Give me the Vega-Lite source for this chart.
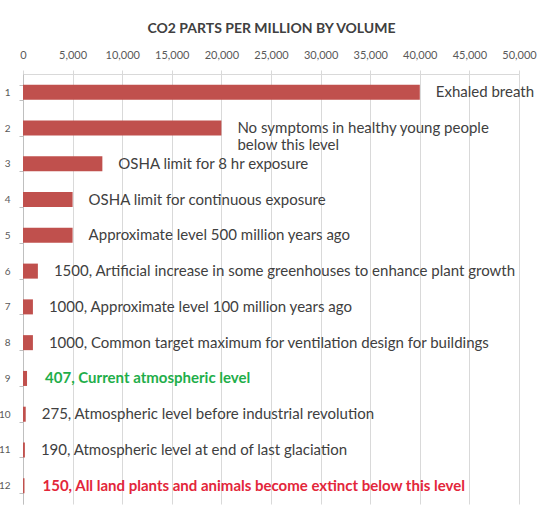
{
  "$schema": "https://vega.github.io/schema/vega-lite/v6.json",
  "autosize": {"type": "none"},
  "width": 496,
  "height": 430,
  "padding": {"left": 23, "top": 74, "right": 27, "bottom": 4},
  "background": "white",
  "config": {
    "font": "Lato",
    "view": {"stroke": null}
  },
  "data": {
    "values": [
      {"row": "1", "ppm": 40000, "label": "Exhaled breath", "kind": "normal"},
      {"row": "2", "ppm": 20000, "label": "No symptoms in healthy young people\nbelow this level", "kind": "normal"},
      {"row": "3", "ppm": 8000, "label": "OSHA limit for 8 hr exposure", "kind": "normal"},
      {"row": "4", "ppm": 5000, "label": "OSHA limit for continuous exposure", "kind": "normal"},
      {"row": "5", "ppm": 5000, "label": "Approximate level 500 million years ago", "kind": "normal"},
      {"row": "6", "ppm": 1500, "label": "1500, Artificial increase in some greenhouses to enhance plant growth", "kind": "normal"},
      {"row": "7", "ppm": 1000, "label": "1000, Approximate level 100 million years ago", "kind": "normal"},
      {"row": "8", "ppm": 1000, "label": "1000, Common target maximum for ventilation design for buildings", "kind": "normal"},
      {"row": "9", "ppm": 407, "label": "407, Current atmospheric level", "kind": "current"},
      {"row": "10", "ppm": 275, "label": "275, Atmospheric level before industrial revolution", "kind": "normal"},
      {"row": "11", "ppm": 190, "label": "190, Atmospheric level at end of last glaciation", "kind": "normal"},
      {"row": "12", "ppm": 150, "label": "150, All land plants and animals become extinct below this level", "kind": "extinct"}
    ]
  },
  "encoding": {
    "y": {
      "field": "row",
      "type": "nominal",
      "sort": null,
      "scale": {"paddingInner": 0.58, "paddingOuter": 0.3},
      "axis": {
        "title": null,
        "labelFontSize": 10,
        "labelColor": "#595959",
        "labelPadding": 9,
        "tickSize": 4,
        "tickColor": "#bfbfbf",
        "tickBand": "extent",
        "domainColor": "#bfbfbf",
        "grid": false
      }
    }
  },
  "layer": [
    {
      "mark": {"type": "bar", "color": "#c0504d"},
      "encoding": {
        "x": {
          "field": "ppm",
          "type": "quantitative",
          "scale": {"domain": [0, 50000], "nice": false},
          "axis": {
            "orient": "top",
            "title": "CO2 PARTS PER MILLION BY VOLUME",
            "titleFontSize": 14,
            "titleFontWeight": "bold",
            "titleColor": "#404040",
            "titlePadding": 14,
            "values": [0, 5000, 10000, 15000, 20000, 25000, 30000, 35000, 40000, 45000, 50000],
            "format": ",d",
            "labelFontSize": 11,
            "labelColor": "#595959",
            "labelPadding": 10,
            "labelFlush": false,
            "labelOverlap": false,
            "labelBound": false,
            "tickSize": 4,
            "tickColor": "#d9d9d9",
            "domain": true,
            "domainColor": "#d9d9d9",
            "grid": true,
            "gridColor": "#d9d9d9"
          }
        }
      }
    },
    {
      "transform": [{"filter": "datum.kind === 'normal'"}],
      "mark": {"type": "text", "align": "left", "baseline": "middle", "dx": 16, "fontSize": 15, "lineBreak": "\n", "lineHeight": 17, "color": "#404040"},
      "encoding": {
        "x": {"field": "ppm", "type": "quantitative"},
        "text": {"field": "label"}
      }
    },
    {
      "transform": [{"filter": "datum.kind !== 'normal'"}],
      "mark": {"type": "text", "align": "left", "baseline": "middle", "dx": 18, "fontSize": 15, "fontWeight": "bold"},
      "encoding": {
        "x": {"field": "ppm", "type": "quantitative"},
        "text": {"field": "label"},
        "color": {
          "field": "kind",
          "type": "nominal",
          "scale": {"domain": ["current", "extinct"], "range": ["#1fae4a", "#e3263a"]},
          "legend": null
        }
      }
    }
  ]
}
